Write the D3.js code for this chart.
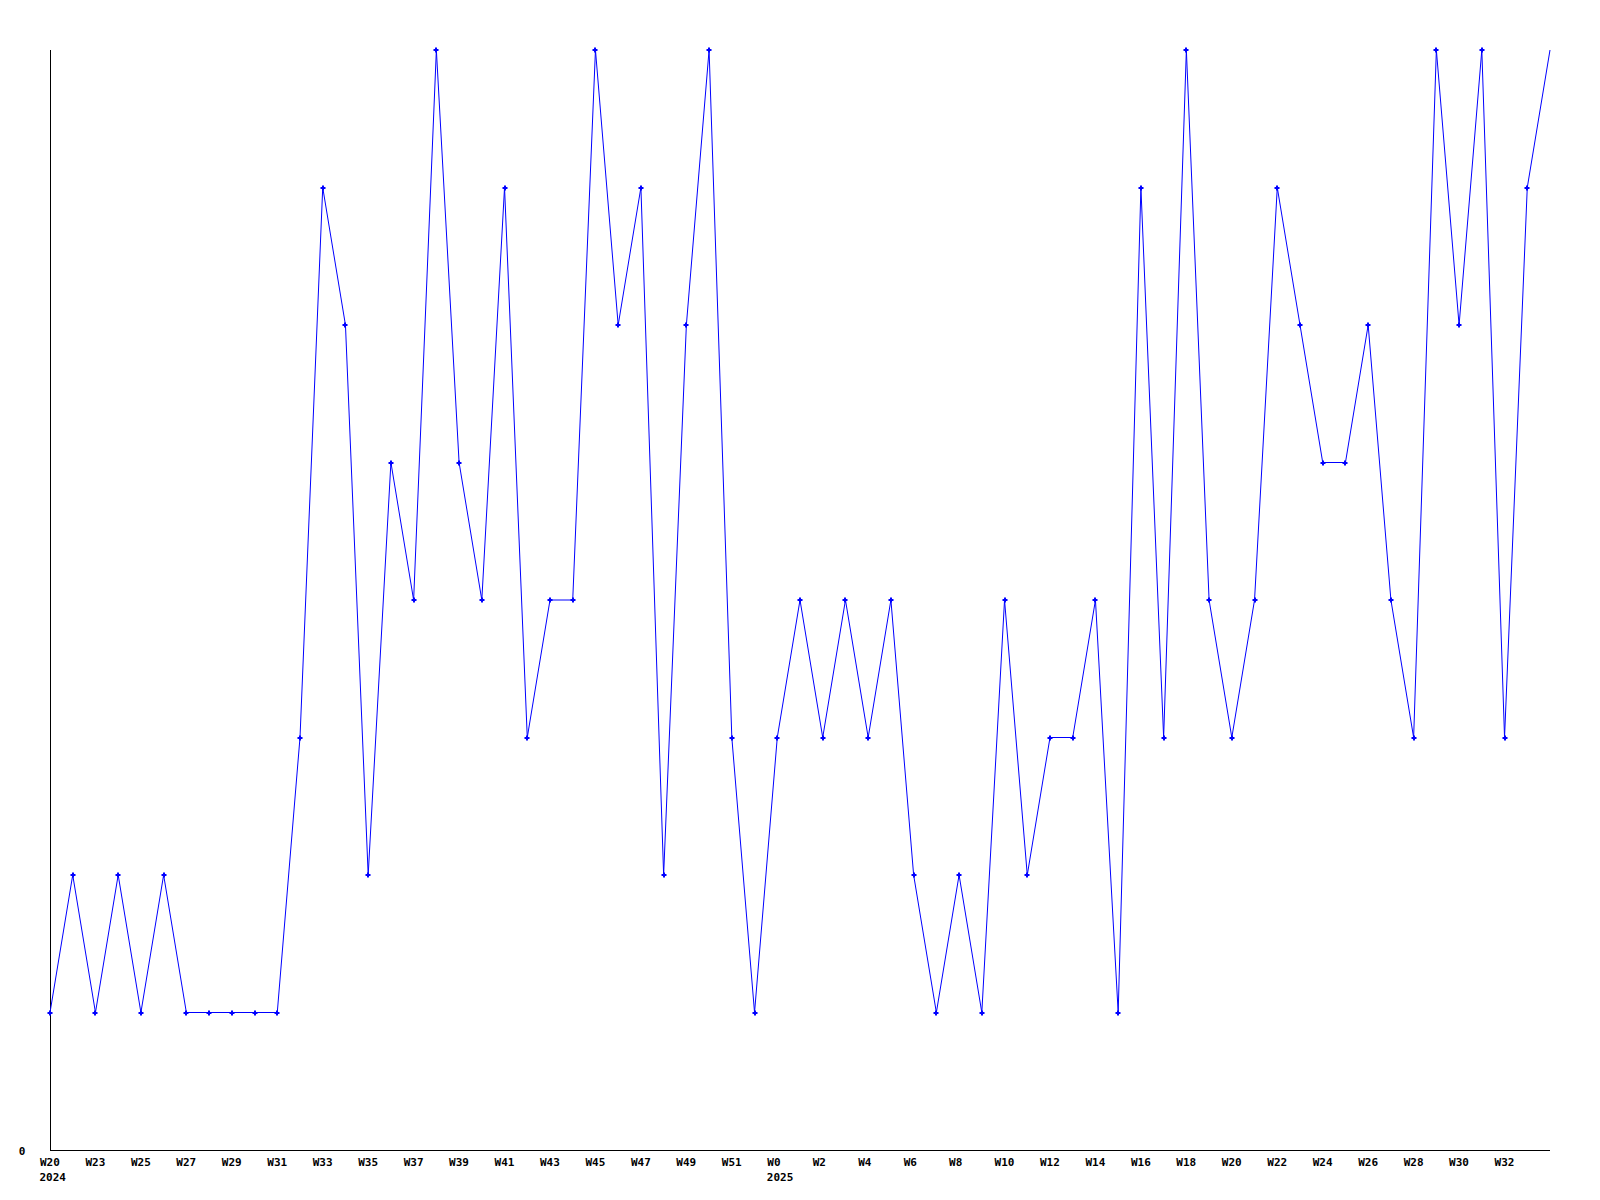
<!DOCTYPE html>
<html><head><meta charset="utf-8">
<script src="https://cdn.jsdelivr.net/npm/d3@7"></script>
<style>body{margin:0;background:#fff}svg{display:block}</style>
</head><body>
<svg id="c" width="1600" height="1200"></svg>
<script>
const weeks = ["W20","W22","W23","W24","W25","W26","W27","W28","W29","W30","W31","W32","W33","W34","W35","W36","W37","W38","W39","W40","W41","W42","W43","W44","W45","W46","W47","W48","W49","W50","W51","W52","W0","W1","W2","W3","W4","W5","W6","W7","W8","W9","W10","W11","W12","W13","W14","W15","W16","W17","W18","W19","W20","W21","W22","W23","W24","W25","W26","W27","W28","W29","W30","W31","W32","W33","W34"];
const values = [1,2,1,2,1,2,1,1,1,1,1,3,7,6,2,5,4,8,5,4,7,3,4,4,8,6,7,2,6,8,3,1,3,4,3,4,3,4,2,1,2,1,4,2,3,3,4,1,7,3,8,4,3,4,7,6,5,5,6,4,3,8,6,8,3,7,8];
const yearLabels = [{index:0, label:"2024"},{index:32, label:"2025"}];
const yTicks = [0];

(function () {
const svg = d3.select("#c");
const mLeft = 50, mRight = 1550, mTop = 50, mBottom = 1150;
const x = d3.scaleLinear().domain([0, values.length - 1]).range([mLeft, mRight]);
const y = d3.scaleLinear().domain([0, 8]).range([mBottom, mTop]);
const font = "'DejaVu Sans Mono', monospace";

const xAxis = d3.axisBottom(x).tickValues(d3.range(0, values.length - 1, 2)).tickSize(0).tickFormat(i => weeks[i]);
const gx = svg.append("g").attr("transform", `translate(0,${mBottom})`).call(xAxis);
gx.select(".domain").attr("stroke", "#000").attr("d", `M${mLeft},0.5H${mRight}`);
gx.selectAll("text").attr("font-family", font).attr("font-size", 11).attr("font-weight", "bold").attr("fill", "#000")
  .attr("dy", 0).attr("y", 16).attr("x", -10.5).attr("text-anchor", "start");

const yAxis = d3.axisLeft(y).tickValues(yTicks).tickSize(0).tickFormat(d3.format("d"));
const gy = svg.append("g").attr("transform", `translate(${mLeft},0)`).call(yAxis);
gy.select(".domain").attr("stroke", "#000").attr("d", `M0.5,${mTop}V${mBottom}`);
gy.selectAll(".tick").attr("transform", null);
gy.selectAll("text").attr("font-family", font).attr("font-size", 11).attr("font-weight", "bold").attr("fill", "#000").attr("x", -28).attr("dy", "0.35em").attr("text-anchor", "middle").attr("y", y(0) + 1);

svg.append("g").selectAll("text").data(yearLabels).join("text")
  .attr("x", d => x(d.index) - 10.5).attr("y", 1181)
  .attr("text-anchor", "start")
  .attr("font-family", font).attr("font-size", 11).attr("font-weight", "bold")
  .text(d => d.label);

const line = d3.line().x((d, i) => x(i)).y(d => y(d));
svg.append("path").datum(values).attr("d", line).attr("fill", "none").attr("stroke", "#0000ff").attr("stroke-width", 1);

const marks = svg.append("g").attr("fill", "#0000ff");
values.slice(0, values.length - 1).forEach((v, i) => {
  const cx = Math.round(x(i)), cy = Math.round(y(v));
  marks.append("rect").attr("x", cx - 2.5).attr("y", cy - 1).attr("width", 5).attr("height", 2);
  marks.append("rect").attr("x", cx - 1).attr("y", cy - 2.5).attr("width", 2).attr("height", 5);
});
})();
</script>
</body></html>
